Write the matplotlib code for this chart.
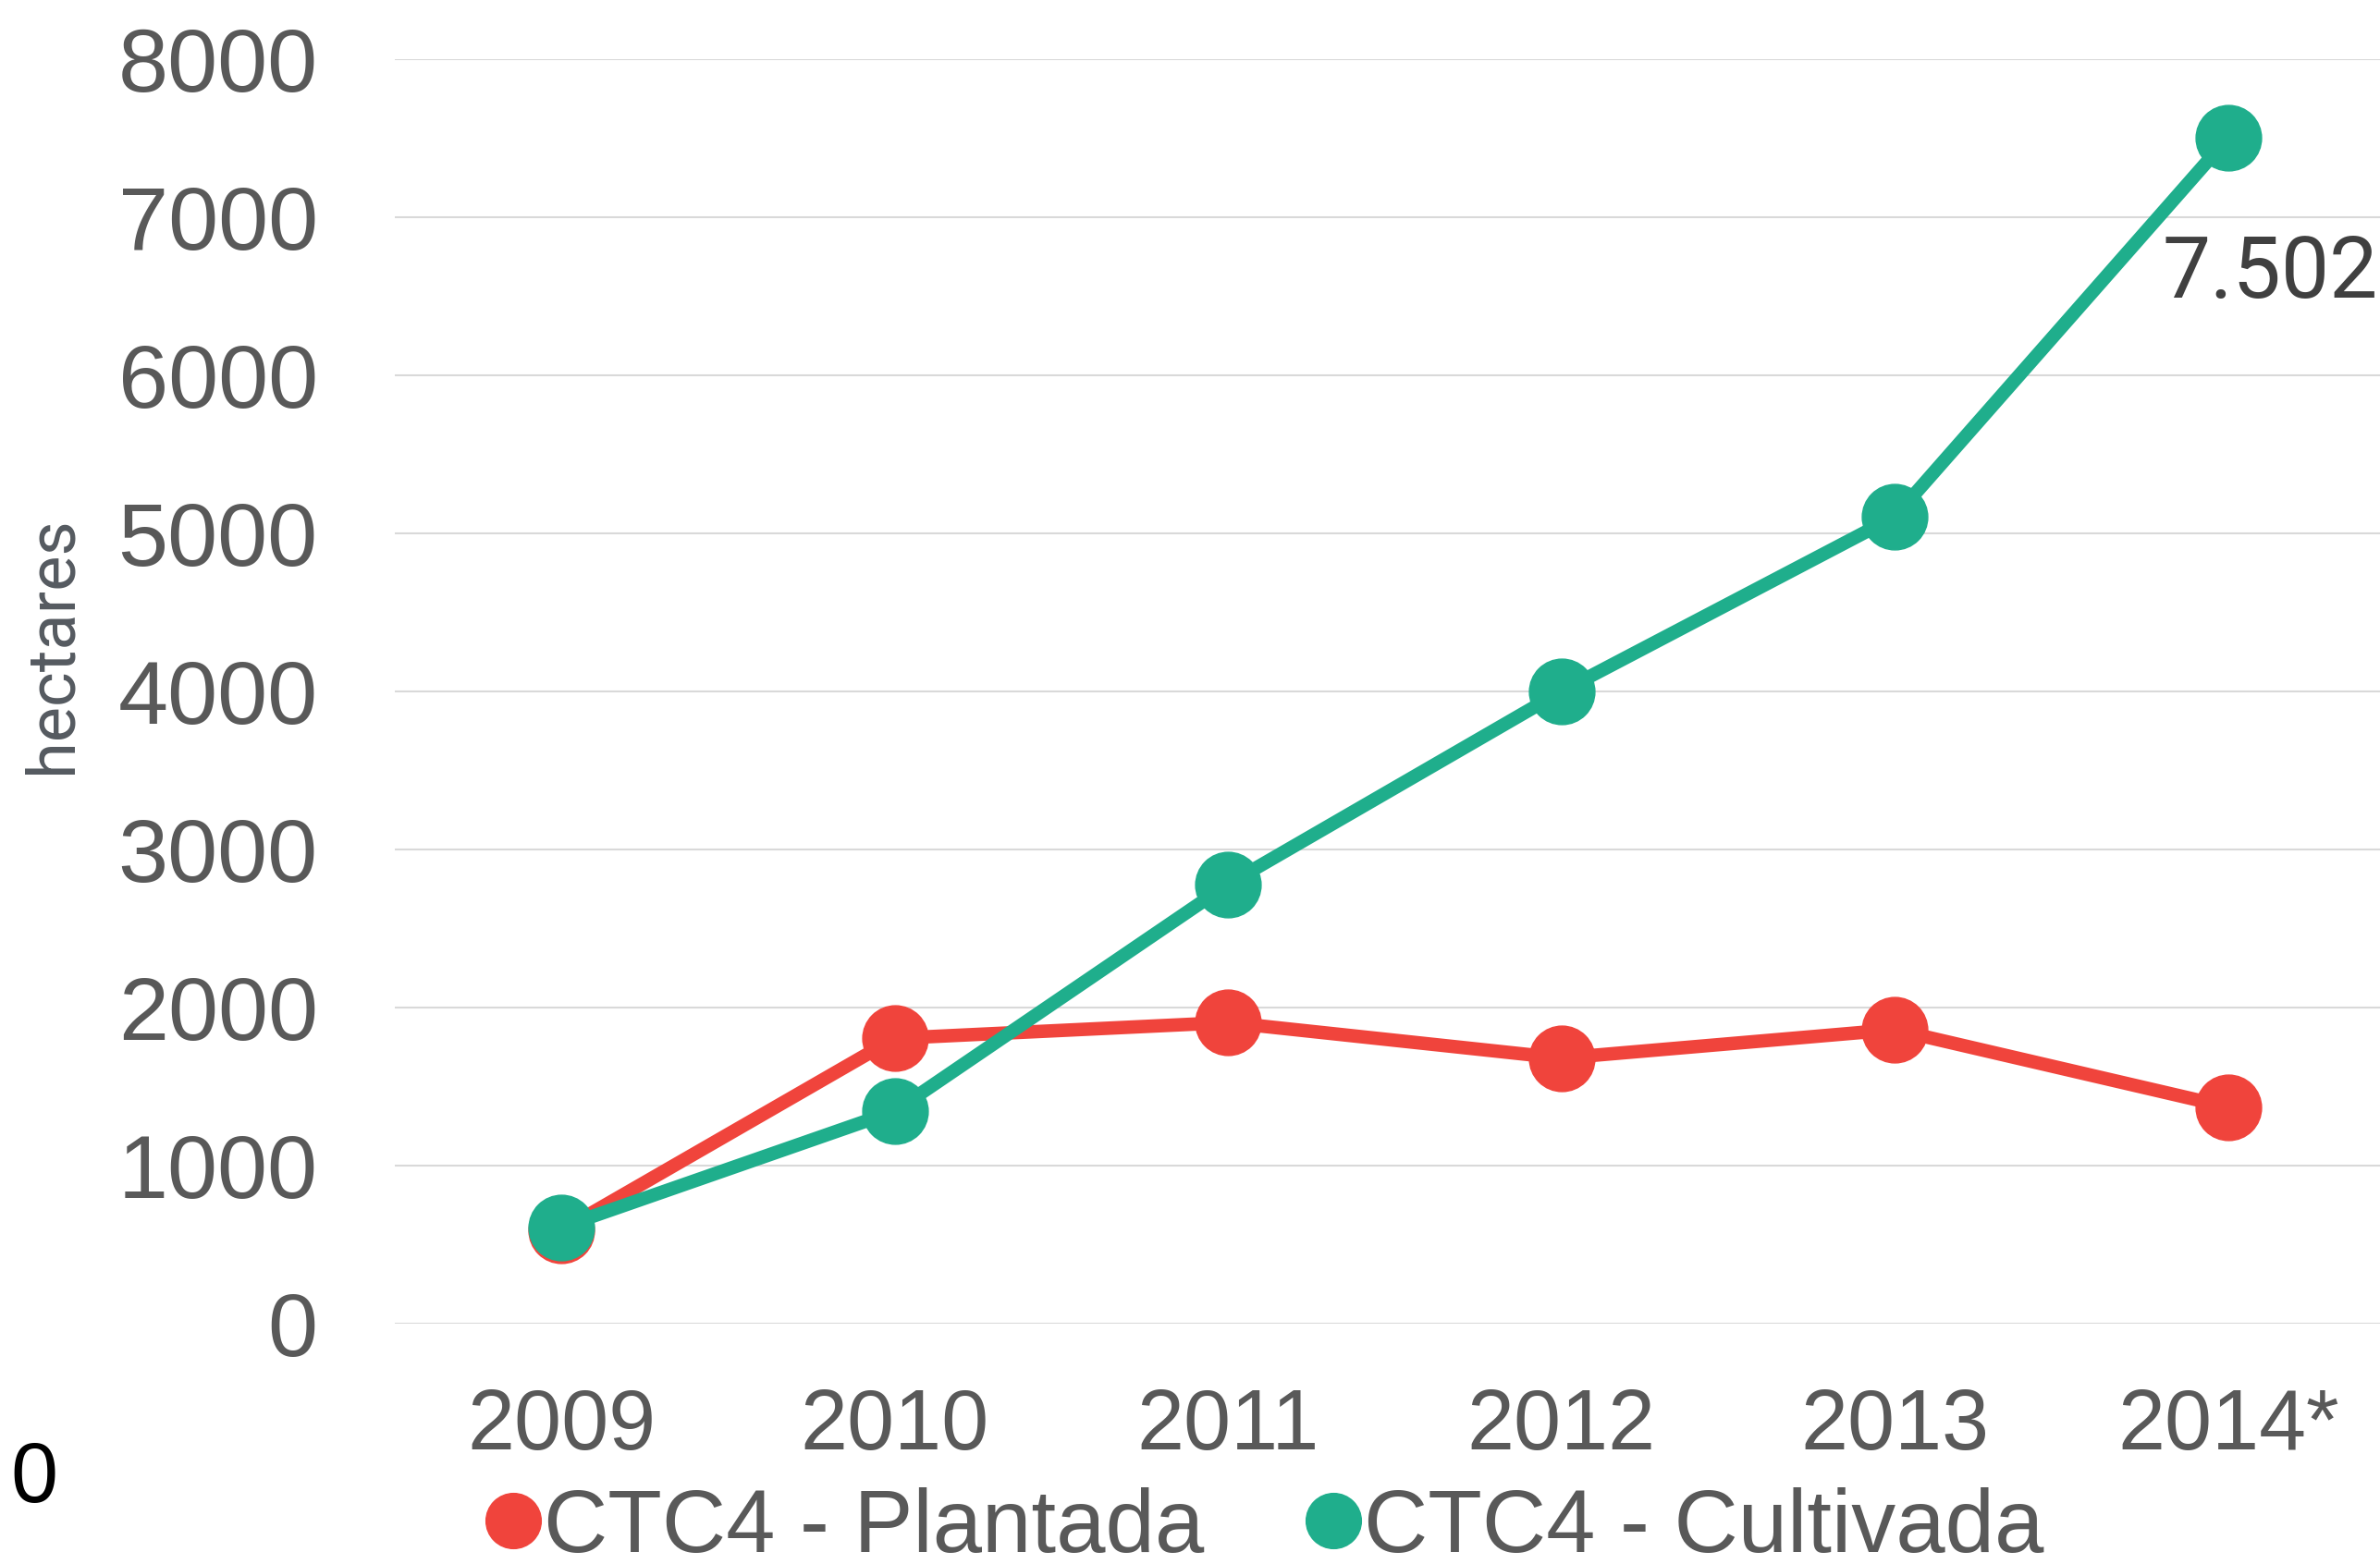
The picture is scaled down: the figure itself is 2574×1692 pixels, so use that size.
import matplotlib
matplotlib.use('Agg')
import matplotlib.pyplot as plt
from matplotlib.lines import Line2D

# dados
anos = ['2009', '2010', '2011', '2012', '2013', '2014*']
plantada = [590, 1805, 1905, 1680, 1860, 1370]
cultivada = [610, 1345, 2780, 4000, 5105, 7502]
series = ['CTC4 - Plantada', 'CTC4 - Cultivada']
rotulo_final = '7.502'
yticks = [0, 1000, 2000, 3000, 4000, 5000, 6000, 7000, 8000]

vermelho = '#F0443C'
verde = '#1FAE8C'
cinza = '#595959'

plt.rcParams['font.family'] = ['Liberation Sans', 'DejaVu Sans']

fig = plt.figure(figsize=(25.74, 16.92), dpi=100)
ax = fig.add_axes([0.1659, 0.1537, 0.8403, 0.8085])

x = list(range(len(anos)))
ax.plot(x, plantada, color=vermelho, lw=10.5, marker='o', ms=51, clip_on=False, zorder=3)
ax.plot(x, cultivada, color=verde, lw=10.5, marker='o', ms=51, clip_on=False, zorder=4)

# rotulo do ultimo ponto
ax.annotate(rotulo_final, (x[-1], cultivada[-1]), xytext=(33, -106),
            textcoords='offset points', ha='center', va='center',
            fontsize=67, color='#404040', family=['Roboto', 'DejaVu Sans'])

ax.set_xlim(-0.5, 5.5)
ax.set_ylim(0, 8000)
ax.set_xticks(x)
ax.set_xticklabels(anos)
ax.set_yticks(yticks)
ax.tick_params(axis='both', length=0, labelcolor=cinza)
ax.tick_params(axis='y', pad=60, labelsize=70)
ax.tick_params(axis='x', pad=50, labelsize=66)
for s in ax.spines.values():
    s.set_visible(False)
ax.yaxis.grid(True, color='#D9D9D9', lw=1.5)
ax.set_axisbelow(True)

ax.set_ylabel('hectares', fontsize=52, color='#555A60', family=['Roboto', 'DejaVu Sans'])
ax.yaxis.set_label_coords(-0.171, 0.537)
ax.yaxis.label.set_va('center')

# o "0" solto no canto
fig.text(37 / 2574, 1 - 1601 / 1692, '0', ha='center', va='center', fontsize=66, color='black')

handles = [Line2D([], [], ls='none', marker='o', ms=43, color=vermelho),
           Line2D([], [], ls='none', marker='o', ms=43, color=verde)]
fig.legend(handles, series, loc='center', bbox_to_anchor=(0.5316, 0.0225), ncol=2,
           frameon=False, handlelength=0.6, handletextpad=0.05, columnspacing=1.15,
           fontsize=69, labelcolor=cinza, borderpad=0, borderaxespad=0)

fig.savefig('out.png', dpi=100)
